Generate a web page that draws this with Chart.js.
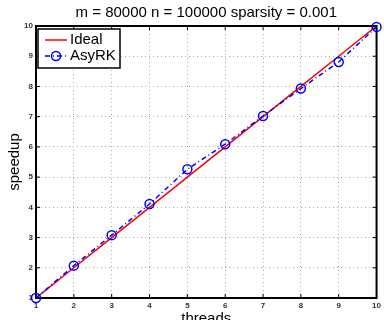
<!DOCTYPE html>
<html>
<head>
<meta charset="utf-8">
<script src="https://cdn.jsdelivr.net/npm/chart.js@4"></script>
<style>
  body { margin: 0; background: #fff; }
  #wrap { width: 384px; height: 320px; }
</style>
</head>
<body>
<div id="wrap"><canvas id="speedupChart" width="384" height="320"></canvas></div>
<script>
const threads = [1, 2, 3, 4, 5, 6, 7, 8, 9, 10];
const ideal = [1, 2, 3, 4, 5, 6, 7, 8, 9, 10];
const asyrk = [1, 2.07, 3.08, 4.11, 5.26, 6.09, 7.02, 7.93, 8.81, 9.97];
const tickValues = [1, 2, 3, 4, 5, 6, 7, 8, 9, 10];

const FONT = "'Liberation Sans', Arial, sans-serif";

// box + inward ticks like matlab axes
const axesBox = {
    id: 'axesBox',
    beforeDatasetsDraw(chart) {
        const ctx = chart.ctx;
        const a = chart.chartArea;
        const xs = chart.scales.x, ys = chart.scales.y;
        ctx.save();
        ctx.strokeStyle = '#000';
        ctx.lineWidth = 1;
        tickValues.forEach(v => {
            const px = xs.getPixelForValue(v);
            const py = ys.getPixelForValue(v);
            ctx.beginPath();
            ctx.moveTo(px, a.bottom); ctx.lineTo(px, a.bottom - 4);
            ctx.moveTo(px, a.top); ctx.lineTo(px, a.top + 4);
            ctx.moveTo(a.left, py); ctx.lineTo(a.left + 4, py);
            ctx.moveTo(a.right, py); ctx.lineTo(a.right - 4, py);
            ctx.stroke();
        });
        ctx.lineWidth = 2;
        ctx.strokeRect(a.left, a.top, a.right - a.left, a.bottom - a.top);
        ctx.restore();
    },
    afterDraw(chart) {
        // legend box in the top left corner
        const ctx = chart.ctx;
        const a = chart.chartArea;
        const x0 = a.left + 2, y0 = a.top + 3, w = 82, h = 39;
        ctx.save();
        ctx.fillStyle = '#fff';
        ctx.fillRect(x0, y0, w, h);
        ctx.strokeStyle = '#000';
        ctx.lineWidth = 1.5;
        ctx.strokeRect(x0, y0, w, h);
        const items = chart.data.datasets;
        items.forEach((ds, i) => {
            const ly = y0 + 11 + i * 16;
            ctx.strokeStyle = ds.borderColor;
            ctx.lineWidth = 1.5;
            ctx.setLineDash(ds.borderDash || []);
            ctx.beginPath();
            ctx.moveTo(x0 + 7, ly);
            ctx.lineTo(x0 + 29, ly);
            ctx.stroke();
            ctx.setLineDash([]);
            if (ds.pointRadius) {
                ctx.beginPath();
                ctx.arc(x0 + 18, ly, ds.pointRadius, 0, Math.PI * 2);
                ctx.stroke();
            }
            ctx.fillStyle = '#000';
            ctx.font = '15px ' + FONT;
            ctx.textBaseline = 'middle';
            ctx.fillText(ds.label, x0 + 32, ly);
        });
        ctx.restore();
    }
};

const ctx = document.getElementById('speedupChart').getContext('2d');
new Chart(ctx, {
    type: 'line',
    data: {
        datasets: [{
            label: 'Ideal',
            data: threads.map((t, i) => ({ x: t, y: ideal[i] })),
            borderColor: '#ff0000',
            borderWidth: 1.5,
            pointRadius: 0,
            tension: 0,
            order: 2
        }, {
            label: 'AsyRK',
            data: threads.map((t, i) => ({ x: t, y: asyrk[i] })),
            borderColor: '#0000ff',
            borderWidth: 1.5,
            borderDash: [5, 3, 1, 3],
            pointRadius: 4.5,
            pointBorderWidth: 1.5,
            pointBorderColor: '#0000ff',
            pointBackgroundColor: 'rgba(0,0,0,0)',
            tension: 0,
            clip: false,
            order: 1
        }]
    },
    options: {
        responsive: false,
        animation: false,
        layout: { padding: { left: 0, right: 3, top: 0, bottom: 0 } },
        scales: {
            x: {
                type: 'linear',
                min: 1,
                max: 10,
                afterFit: s => { s.height = 22; },
                afterBuildTicks: s => { s.ticks = tickValues.map(v => ({ value: v })); },
                ticks: {
                    padding: 3,
                    color: '#333',
                    font: { family: FONT, size: 8, weight: 'bold' }
                },
                grid: { color: '#aaa', lineWidth: 1, drawTicks: false },
                border: { display: true, color: '#000', width: 2, dash: [1, 3] },
                title: {
                    display: true,
                    text: 'threads',
                    color: '#000',
                    font: { family: FONT, size: 15 },
                    padding: { top: 0, bottom: -8 }
                }
            },
            y: {
                type: 'linear',
                min: 1,
                max: 10,
                afterFit: s => { s.width = 36; },
                afterBuildTicks: s => { s.ticks = tickValues.map(v => ({ value: v })); },
                ticks: {
                    padding: 3,
                    color: '#333',
                    font: { family: FONT, size: 8, weight: 'bold' }
                },
                grid: { color: '#aaa', lineWidth: 1, drawTicks: false },
                border: { display: true, color: '#000', width: 2, dash: [1, 3] },
                title: {
                    display: true,
                    text: 'speedup',
                    color: '#000',
                    font: { family: FONT, size: 15 },
                    padding: { top: 6, bottom: 0 }
                }
            }
        },
        plugins: {
            legend: { display: false },
            tooltip: { enabled: false },
            title: {
                display: true,
                fullSize: false,
                text: 'm = 80000 n = 100000 sparsity = 0.001',
                color: '#000',
                font: { family: FONT, size: 15, weight: 'normal' },
                padding: { top: 4, bottom: 4 }
            }
        }
    },
    plugins: [axesBox]
});
</script>
</body>
</html>
